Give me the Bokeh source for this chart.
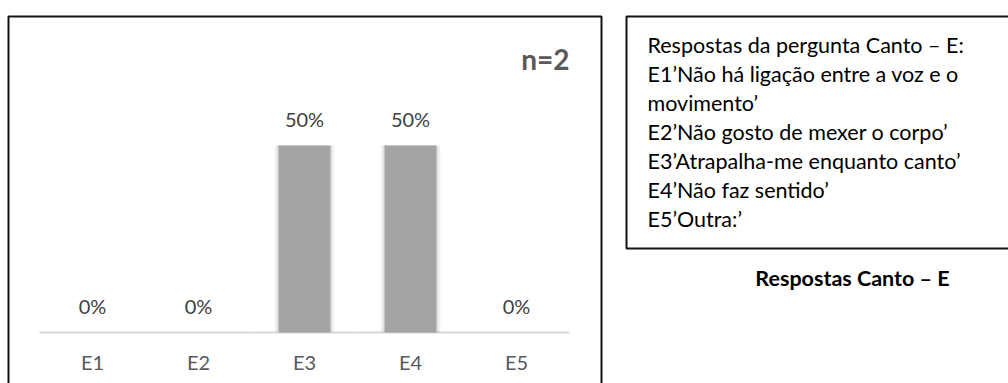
from bokeh.plotting import figure
from bokeh.layouts import row
from bokeh.models import ColumnDataSource, Range1d, FactorRange, Label, BoxAnnotation
from bokeh.transform import dodge
from bokeh.embed import file_html
from bokeh.resources import INLINE
from bokeh.core.properties import value

# ---- data ----
categories = ["E1", "E2", "E3", "E4", "E5"]
shares = [0.0, 0.0, 0.5, 0.5, 0.0]
bar_labels = ["0%", "0%", "50%", "50%", "0%"]
sample_label = "n=2"
legend_lines = [
    "Respostas da pergunta Canto – E:",
    "E1’Não há ligação entre a voz e o",
    "movimento’",
    "E2’Não gosto de mexer o corpo’",
    "E3’Atrapalha-me enquanto canto’",
    "E4’Não faz sentido’",
    "E5’Outra:’",
]
caption = "Respostas Canto – E"

FONT = "Lato"

src = ColumnDataSource(dict(cat=categories, val=shares, lab=bar_labels))

# ---------------- left: bar chart ----------------
p = figure(
    width=608, height=383,
    x_range=FactorRange(*categories, range_padding=0.368, range_padding_units="absolute"),
    y_range=Range1d(-0.1364, 0.8877),
    x_axis_location=None, y_axis_location=None,
    output_backend="svg", toolbar_location=None,
    min_border=0, min_border_left=0, min_border_right=0,
    min_border_top=0, min_border_bottom=0,
)
p.outline_line_color = None
p.xgrid.grid_line_color = None
p.ygrid.grid_line_color = None
p.background_fill_color = "white"
p.border_fill_color = "white"

# baseline (category axis line)
p.segment(x0=dodge("cat", -0.5, range=p.x_range), x1=dodge("cat", 0.5, range=p.x_range),
          y0=0, y1=0, source=src, line_color="#d9d9d9", line_width=2)

# soft shadow layers
for w, a in [(0.57, 0.05), (0.545, 0.08), (0.52, 0.12)]:
    p.vbar(x="cat", top="val", bottom=0, width=w, source=src,
           fill_color="#7f7f7f", fill_alpha=a, line_color=None)
p.vbar(x="cat", top="val", bottom=0, width=0.49, source=src,
       fill_color="#a4a4a4", line_color=None)

# data labels
p.text(x="cat", y="val", text="lab", source=src,
       text_align="center", text_baseline="alphabetic", y_offset=-26,
       text_font=value(FONT), text_font_size="20px", text_color="#404040")

# category labels
p.text(x="cat", y=0, text="cat", source=src,
       text_align="center", text_baseline="alphabetic", y_offset=30,
       text_font=value(FONT), text_font_size="20px", text_color="#595959")

p.add_layout(Label(x=569, y=58, x_units="canvas", y_units="canvas",
                   text=sample_label, text_align="right", text_baseline="alphabetic",
                   text_font=FONT, text_font_size="28px", text_font_style="bold",
                   text_color="#595959"))

p.add_layout(BoxAnnotation(left=8, right=601, top=16, bottom=420,
                           left_units="canvas", right_units="canvas",
                           top_units="canvas", bottom_units="canvas",
                           fill_color=None, line_color="#111111", line_alpha=1.0,
                           line_width=2))

# ---------------- right: text panel ----------------
q = figure(
    width=400, height=383,
    x_range=Range1d(0, 400), y_range=Range1d(383, 0),
    x_axis_location=None, y_axis_location=None,
    output_backend="svg", toolbar_location=None,
    min_border=0, min_border_left=0, min_border_right=0,
    min_border_top=0, min_border_bottom=0,
)
q.outline_line_color = None
q.xgrid.grid_line_color = None
q.ygrid.grid_line_color = None
q.background_fill_color = "white"
q.border_fill_color = "white"

q.add_layout(BoxAnnotation(left=18, right=430, top=16, bottom=248,
                           fill_color=None, line_color="#111111", line_alpha=1.0,
                           line_width=2))

for i, line in enumerate(legend_lines):
    q.add_layout(Label(x=39, y=44 + 29.0 * i, text=line,
                       text_align="left", text_baseline="alphabetic",
                       text_font=FONT, text_font_size="21.5px", text_color="#000000"))

q.add_layout(Label(x=244, y=277, text=caption,
                   text_align="center", text_baseline="alphabetic",
                   text_font=FONT, text_font_size="21.5px", text_font_style="bold",
                   text_color="#000000"))

layout = row(p, q, spacing=0)
open("out.html", "w").write(file_html(layout, INLINE))
